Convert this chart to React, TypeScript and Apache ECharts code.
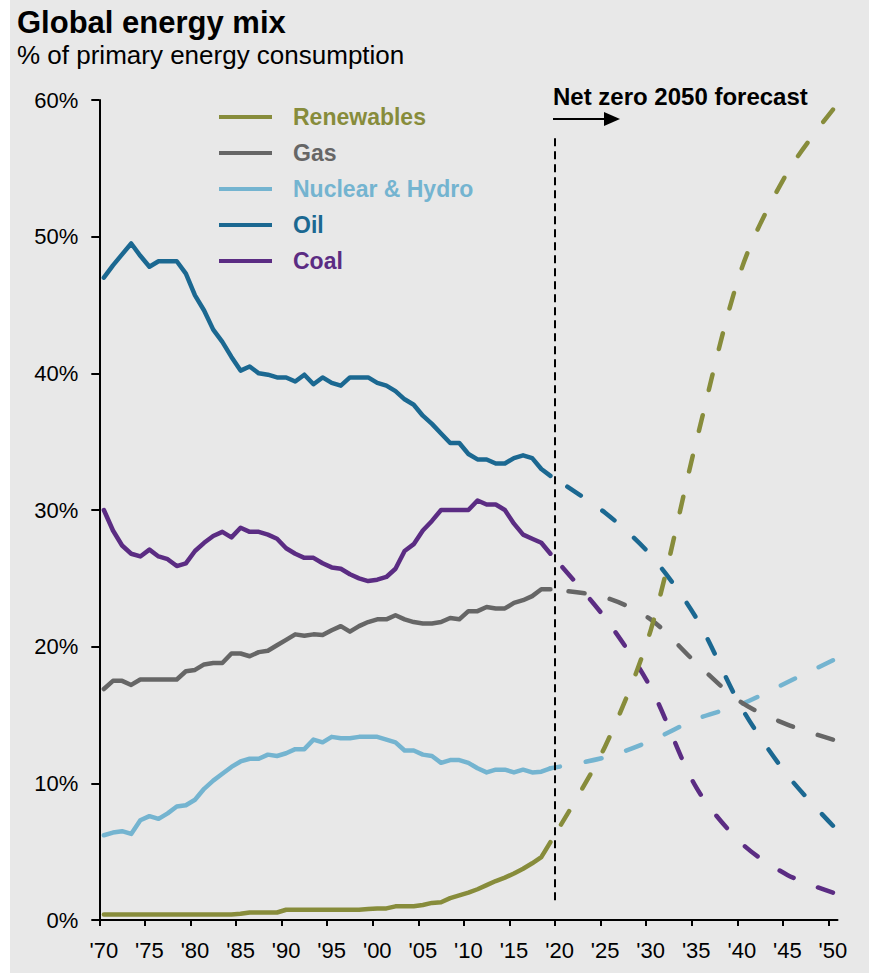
import React, { useEffect, useRef } from "react";
import * as echarts from "echarts";

const FONT = "'Liberation Sans', Arial, Helvetica, sans-serif";

// Legend / series names and colours (top-to-bottom legend order)
const SERIES_NAMES = ["Renewables", "Gas", "Nuclear & Hydro", "Oil", "Coal"];
const COLORS = ["#878C3B", "#666666", "#74B4D0", "#1B6891", "#5B2C83"];

// Historical data, one value per year starting 1970 (to 2019), % of primary energy
const HIST_START_YEAR = 1970;
const renewablesHist = [
  0.4, 0.4, 0.4, 0.4, 0.4, 0.4, 0.4, 0.4, 0.4, 0.4,
  0.4, 0.4, 0.4, 0.4, 0.4, 0.45, 0.55, 0.55, 0.55, 0.55,
  0.75, 0.75, 0.75, 0.75, 0.75, 0.75, 0.75, 0.75, 0.75, 0.8,
  0.85, 0.85, 1.0, 1.0, 1.0, 1.1, 1.25, 1.3, 1.6, 1.8,
  2.0, 2.25, 2.55, 2.85, 3.1, 3.4, 3.75, 4.15, 4.6, 5.7,
];
const gasHist = [
  16.9, 17.5, 17.5, 17.2, 17.6, 17.6, 17.6, 17.6, 17.6, 18.2,
  18.3, 18.7, 18.8, 18.8, 19.5, 19.5, 19.3, 19.6, 19.7, 20.1,
  20.5, 20.9, 20.8, 20.9, 20.85, 21.2, 21.5, 21.1, 21.5, 21.8,
  22.0, 22.0, 22.3, 22.0, 21.8, 21.7, 21.7, 21.8, 22.1, 22.0,
  22.6, 22.6, 22.9, 22.8, 22.8, 23.2, 23.4, 23.7, 24.2, 24.2,
];
const nuclearHydroHist = [
  6.2, 6.4, 6.5, 6.3, 7.3, 7.6, 7.4, 7.8, 8.3, 8.4,
  8.8, 9.6, 10.2, 10.7, 11.2, 11.6, 11.8, 11.8, 12.1, 12.0,
  12.2, 12.5, 12.5, 13.2, 13.0, 13.4, 13.3, 13.3, 13.4, 13.4,
  13.4, 13.2, 13.0, 12.4, 12.4, 12.1, 12.0, 11.5, 11.7, 11.7,
  11.5, 11.1, 10.8, 11.0, 11.0, 10.8, 11.0, 10.8, 10.85, 11.1,
];
const oilHist = [
  47.0, 47.9, 48.7, 49.5, 48.6, 47.8, 48.2, 48.2, 48.2, 47.3,
  45.7, 44.6, 43.2, 42.3, 41.2, 40.2, 40.5, 40.0, 39.9, 39.7,
  39.7, 39.4, 39.9, 39.2, 39.7, 39.3, 39.1, 39.7, 39.7, 39.7,
  39.3, 39.1, 38.7, 38.1, 37.7, 36.9, 36.3, 35.6, 34.9, 34.9,
  34.1, 33.7, 33.7, 33.4, 33.4, 33.8, 34.0, 33.8, 33.0, 32.5,
];
const coalHist = [
  30.0, 28.5, 27.4, 26.8, 26.6, 27.1, 26.6, 26.4, 25.9, 26.1,
  27.0, 27.6, 28.1, 28.4, 28.0, 28.7, 28.4, 28.4, 28.2, 27.9,
  27.2, 26.8, 26.5, 26.5, 26.1, 25.8, 25.7, 25.3, 25.0, 24.8,
  24.9, 25.1, 25.7, 27.0, 27.5, 28.5, 29.2, 30.0, 30.0, 30.0,
  30.0, 30.7, 30.4, 30.4, 30.0, 29.0, 28.2, 27.9, 27.6, 26.8,
];

// Net zero 2050 forecast
const FORECAST_YEARS = [2025, 2030, 2035, 2040, 2045, 2050];
const renewablesForecast = [12.7, 21.2, 35.0, 47.7, 54.7, 59.3];
const gasForecast = [23.6, 22.0, 18.8, 15.9, 14.3, 13.2];
const nuclearHydroForecast = [11.9, 13.1, 14.7, 15.8, 17.4, 19.0];
const oilForecast = [29.8, 26.7, 22.1, 15.5, 10.6, 6.9];
const coalForecast = [22.1, 17.0, 9.7, 5.6, 3.3, 2.0];

// Axis
const X_LABEL_YEARS = [1970, 1975, 1980, 1985, 1990, 1995, 2000, 2005, 2010, 2015, 2020, 2025, 2030, 2035, 2040, 2045, 2050];
const Y_MIN = 0;
const Y_MAX = 60;
const Y_STEP = 10;
const FORECAST_DIVIDER = 2019.5;
const DIVIDER_RANGE = [1.45, 57.4];
const ANNOTATION = "Net zero 2050 forecast";
const TITLE = "Global energy mix";
const SUBTITLE = "% of primary energy consumption";

const HIST = [renewablesHist, gasHist, nuclearHydroHist, oilHist, coalHist];
const FORECAST = [renewablesForecast, gasForecast, nuclearHydroForecast, oilForecast, coalForecast];

export default function App() {
  const ref = useRef<HTMLDivElement>(null);

  useEffect(() => {
    document.body.style.margin = "0";
    if (!ref.current) return;
    const chart = echarts.init(ref.current, null, { renderer: "svg" });

    const histYears = HIST[0].map((_, i) => HIST_START_YEAR + i);
    const lastYear = histYears[histYears.length - 1];

    const series: any[] = [];
    const order = [4, 3, 2, 1, 0];
    order.forEach((k) => {
      const hist = HIST[k];
      series.push({
        name: SERIES_NAMES[k],
        type: "line",
        data: histYears.map((y, i) => [y, hist[i]]),
        showSymbol: false,
        symbol: "none",
        lineStyle: { color: COLORS[k], width: 4.5, cap: "round", join: "round" },
        itemStyle: { color: COLORS[k] },
        z: 3,
      });
      // forecast path listed from 2050 back to the last actual year so the dash pattern starts at 2050
      const fcPairs = [[lastYear, hist[hist.length - 1]], ...FORECAST_YEARS.map((y, i) => [y, FORECAST[k][i]])];
      series.push({
        name: SERIES_NAMES[k],
        type: "line",
        data: fcPairs.slice().reverse(),
        smooth: 0.3,
        showSymbol: false,
        symbol: "none",
        lineStyle: { color: COLORS[k], width: 4.5, type: [16, 26], dashOffset: 0, cap: "round", join: "round" },
        itemStyle: { color: COLORS[k] },
        z: 3,
      });
    });
    series[1].markLine = {
      silent: true,
      symbol: ["none", "none"],
      label: { show: false },
      lineStyle: { color: "#000", width: 2, type: [8, 5] },
      data: [[{ coord: [FORECAST_DIVIDER, DIVIDER_RANGE[0]] }, { coord: [FORECAST_DIVIDER, DIVIDER_RANGE[1]] }]],
    };

    const option: any = {
      animation: false,
      textStyle: { fontFamily: FONT },
      title: [
        {
          text: TITLE,
          left: 17,
          top: 7,
          padding: 0,
          textStyle: { fontFamily: FONT, fontSize: 31, fontWeight: "bold", color: "#000" },
        },
        {
          text: SUBTITLE,
          left: 17,
          top: 42,
          padding: 0,
          textStyle: { fontFamily: FONT, fontSize: 26, fontWeight: "normal", color: "#000" },
        },
      ],
      legend: {
        orient: "vertical",
        left: 219,
        top: 105.5,
        padding: 0,
        itemWidth: 53,
        itemHeight: 4,
        itemGap: 13,
        icon: "rect",
        selectedMode: false,
        textStyle: { fontFamily: FONT, fontSize: 23, fontWeight: "bold", padding: [0, 0, 0, 16] },
        data: SERIES_NAMES.map((n, i) => ({ name: n, textStyle: { color: COLORS[i] } })),
      },
      grid: { left: 99.3, right: 31.5, top: 100, bottom: 53, containLabel: false },
      xAxis: {
        type: "value",
        min: 1969.5,
        max: 2050.5,
        splitLine: { show: false },
        axisLine: { show: true, onZero: false, lineStyle: { color: "#000", width: 2 } },
        axisTick: {
          show: true,
          length: 6,
          lineStyle: { color: "#000", width: 2 },
          customValues: X_LABEL_YEARS.map((y) => y - 0.5),
        },
        axisLabel: {
          customValues: X_LABEL_YEARS,
          fontFamily: FONT,
          fontSize: 22,
          color: "#000",
          margin: 19,
          formatter: (v: number) => "'" + String(Math.round(v)).slice(2),
        },
      },
      yAxis: {
        type: "value",
        min: Y_MIN,
        max: Y_MAX,
        interval: Y_STEP,
        splitLine: { show: false },
        axisLine: { show: true, lineStyle: { color: "#000", width: 2 } },
        axisTick: { show: true, length: 8, lineStyle: { color: "#000", width: 2 } },
        axisLabel: {
          fontFamily: FONT,
          fontSize: 22,
          color: "#000",
          margin: 21,
          formatter: "{value}%",
        },
      },
      graphic: [
        {
          type: "text",
          x: 553,
          y: 84,
          style: {
            text: ANNOTATION,
            font: `bold 24px ${FONT}`,
            fill: "#000",
            align: "left",
            verticalAlign: "top",
          },
        },
        {
          type: "line",
          shape: { x1: 553, y1: 119, x2: 607, y2: 119 },
          style: { stroke: "#000", lineWidth: 2 },
        },
        {
          type: "polygon",
          shape: { points: [[604, 112], [620, 119], [604, 126]] },
          style: { fill: "#000" },
        },
      ],
      series,
    };

    chart.setOption(option);
    return () => chart.dispose();
  }, []);

  return (
    <div
      ref={ref}
      style={{
        width: 869,
        height: 973,
        background: "linear-gradient(to right, #ffffff 10px, #e8e8e8 10px)",
      }}
    />
  );
}
